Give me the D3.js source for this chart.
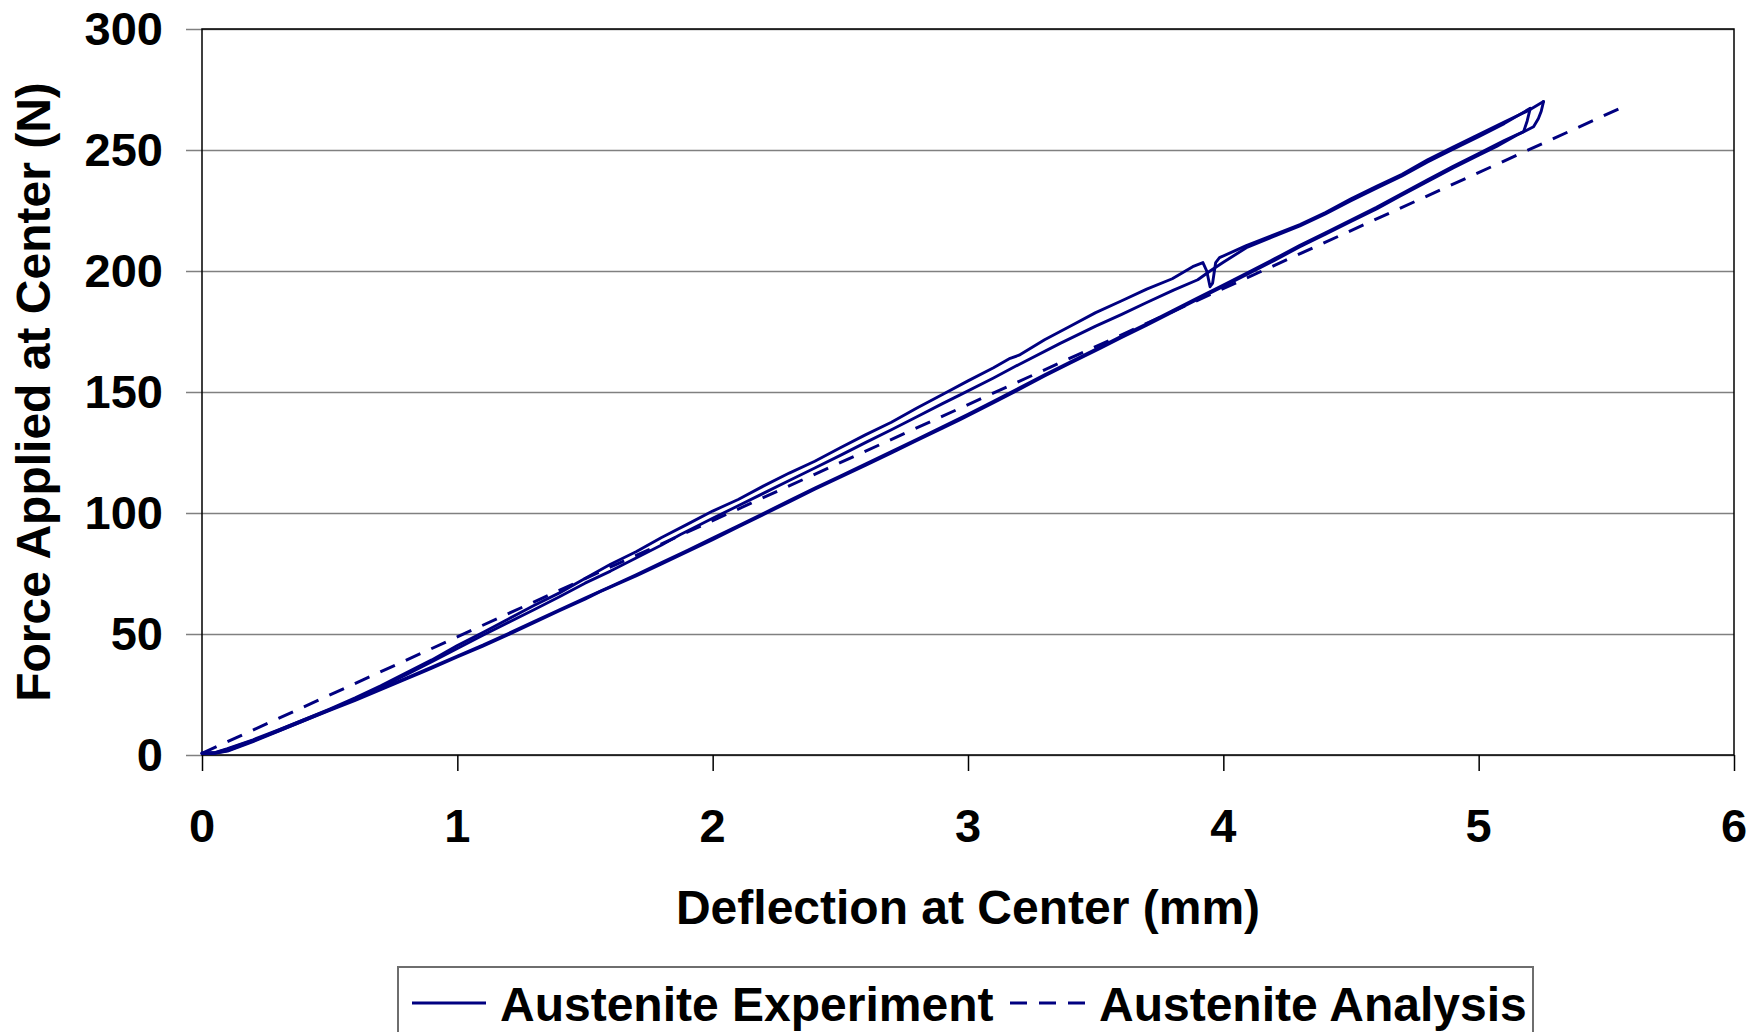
<!DOCTYPE html>
<html>
<head>
<meta charset="utf-8">
<script src="https://cdn.jsdelivr.net/npm/d3@7"></script>
<style>
  html, body { margin: 0; padding: 0; background: #fff; }
  svg { display: block; }
  text { font-family: "Liberation Sans", Arial, sans-serif; font-weight: bold; fill: #000; }
</style>
</head>
<body>
<svg id="chart" width="1764" height="1032"></svg>
<script>
// Axis ticks
const xTicks = [0, 1, 2, 3, 4, 5, 6];
const yTicks = [0, 50, 100, 150, 200, 250, 300];

// Measured load–deflection cycles, [deflection mm, force N]
const loading1 = [
  [0.00,0.8],[0.05,0.8],[0.10,1.8],[0.20,5.8],[0.30,10.3],[0.40,14.6],[0.50,19.0],[0.60,23.6],
  [0.70,28.6],[0.80,34.0],[0.90,39.3],[1.00,45.2],[1.10,50.6],[1.20,56.2],[1.30,61.8],[1.40,67.0],
  [1.50,72.9],[1.60,78.8],[1.70,84.0],[1.80,89.9],[1.90,95.3],[2.00,100.8],[2.10,105.6],[2.20,111.2],
  [2.30,116.5],[2.40,121.4],[2.50,127.0],[2.60,132.4],[2.70,137.5],[2.80,143.4],[2.90,149.0],[3.00,154.6],
  [3.10,160.0],[3.165,163.9],[3.20,165.2],[3.30,171.6],[3.40,177.2],[3.50,182.8],[3.60,187.6],[3.70,192.5],
  [3.80,196.8],[3.88,201.8],[3.92,203.5],[3.935,200.0],[3.948,193.5],[3.958,195.0],[3.97,203.5],[3.985,205.5],
  [4.09,210.5],[4.20,215.0],[4.30,219.2],[4.40,224.2],[4.50,229.8],[4.60,235.0],[4.70,240.0],[4.80,246.0],
  [4.90,251.2],[5.00,256.4],[5.10,261.6],[5.20,266.6],[5.254,270.0]
];
const unloading1 = [
  [5.254,270.0],[5.245,266.0],[5.234,263.0],[5.215,259.6],[5.15,256.2],[5.07,251.5],[5.00,247.8],[4.90,242.6],
  [4.80,237.0],[4.693,231.0],[4.60,225.6],[4.50,220.5],[4.40,215.2],[4.30,210.0],[4.20,204.4],[4.10,199.0],
  [3.988,193.0],[3.90,188.3],[3.80,183.0],[3.70,177.6],[3.60,172.4],[3.517,168.0],[3.40,161.9],[3.30,156.6],
  [3.20,151.0],[3.10,145.6],[2.969,138.6],[2.90,135.0],[2.80,130.0],[2.70,124.8],[2.60,119.8],[2.50,114.8],
  [2.40,109.8],[2.30,104.6],[2.20,99.4],[2.10,94.2],[2.00,89.0],[1.872,82.6],[1.80,79.0],[1.70,74.0],
  [1.559,67.5],[1.50,64.4],[1.40,59.6],[1.30,54.7],[1.206,50.0],[1.10,45.0],[1.00,40.5],[0.90,35.9],
  [0.854,33.8],[0.80,31.4],[0.70,27.0],[0.60,22.6],[0.50,18.4],[0.40,14.2],[0.30,10.0],[0.20,6.0],
  [0.10,2.4],[0.05,0.9],[0.00,0.6]
];
const loading2 = [
  [0.00,0.6],[0.05,0.7],[0.10,1.6],[0.20,5.5],[0.30,9.9],[0.40,14.2],[0.50,18.6],[0.60,23.2],
  [0.70,28.0],[0.80,33.2],[0.90,38.6],[1.00,44.0],[1.10,49.5],[1.20,54.8],[1.30,60.0],[1.40,65.4],
  [1.50,71.0],[1.60,76.0],[1.70,81.4],[1.80,86.8],[1.872,91.0],[2.00,97.8],[2.10,103.0],[2.20,108.2],
  [2.30,113.4],[2.40,118.6],[2.50,123.8],[2.60,129.2],[2.70,134.4],[2.80,139.8],[2.90,145.2],[2.969,148.8],
  [3.10,155.8],[3.20,161.4],[3.361,170.1],[3.50,177.2],[3.60,182.0],[3.70,187.0],[3.805,192.1],[3.90,196.4],
  [3.948,200.0],[4.00,203.6],[4.09,209.6],[4.20,214.4],[4.30,218.6],[4.40,223.6],[4.50,229.0],[4.60,234.2],
  [4.70,239.3],[4.80,245.1],[4.90,250.3],[5.00,255.5],[5.10,260.9],[5.202,267.2]
];
const unloading2 = [
  [5.202,267.2],[5.19,262.0],[5.176,257.6],[5.10,253.9],[5.00,248.5],[4.90,243.3],[4.80,237.7],[4.70,232.0],
  [4.60,226.3],[4.50,221.1],[4.40,215.8],[4.30,210.6],[4.20,205.0],[4.10,199.6],[4.00,194.2],[3.90,188.9],
  [3.80,183.6],[3.70,178.2],[3.60,173.0],[3.50,167.6],[3.40,162.4],[3.30,157.1],[3.20,151.6],[3.10,146.2],
  [3.00,140.8],[2.90,135.6],[2.80,130.5],[2.70,125.4],[2.60,120.3],[2.50,115.3],[2.40,110.3],[2.30,105.1],
  [2.20,99.9],[2.10,94.7],[2.00,89.6],[1.90,84.5],[1.80,79.5],[1.70,74.5],[1.60,69.6],[1.50,64.8],
  [1.40,60.0],[1.30,55.1],[1.20,50.2],[1.10,45.4],[1.00,40.9],[0.90,36.3],[0.80,31.8],[0.70,27.4],
  [0.60,23.0],[0.50,18.8],[0.40,14.6],[0.30,10.4],[0.20,6.3],[0.10,2.6],[0.05,1.0],[0.00,0.7]
];

// Linear model prediction
const analysis = [[0.00,0.7],[1.461,71.0],[2.969,143.3],[5.57,268.0]];

const seriesNames = ["Austenite Experiment", "Austenite Analysis"];

const navy = "#000080";
const svg = d3.select("#chart");

const plot = { left: 202, right: 1734, top: 29, bottom: 755 };
const x = d3.scaleLinear().domain([0, 6]).range([plot.left, plot.right]);
const y = d3.scaleLinear().domain([0, 300]).range([plot.bottom, plot.top]);

// Horizontal gridlines with outward tick stubs on the left
const yAxis = d3.axisLeft(y).tickValues(yTicks).tickSize(plot.right - plot.left + 16).tickFormat("");
const gy = svg.append("g").attr("transform", `translate(${plot.right},0)`).call(yAxis);
gy.select(".domain").remove();
gy.selectAll(".tick line").attr("stroke", "#808080").attr("stroke-width", 1.5);

// Y tick labels
svg.append("g").selectAll("text").data(yTicks).join("text")
  .attr("x", 163).attr("y", d => y(d) + 16)
  .attr("text-anchor", "end").attr("font-size", 47)
  .text(d => d);

// Plot frame
svg.append("rect")
  .attr("x", plot.left).attr("y", plot.top)
  .attr("width", plot.right - plot.left).attr("height", plot.bottom - plot.top)
  .attr("fill", "none").attr("stroke", "#000").attr("stroke-width", 1.5);

// X axis ticks and labels
const xAxis = d3.axisBottom(x).tickValues(xTicks).tickSize(16).tickPadding(0).tickFormat("");
const gx = svg.append("g").attr("transform", `translate(0,${plot.bottom})`).call(xAxis);
gx.select(".domain").remove();
gx.selectAll(".tick line").attr("stroke", "#000").attr("stroke-width", 1.5);
svg.append("g").selectAll("text").data(xTicks).join("text")
  .attr("x", d => x(d)).attr("y", 842)
  .attr("text-anchor", "middle").attr("font-size", 47)
  .text(d => d);

// Axis titles
svg.append("text")
  .attr("x", (plot.left + plot.right) / 2).attr("y", 924)
  .attr("text-anchor", "middle").attr("font-size", 48)
  .text("Deflection at Center (mm)");
svg.append("text")
  .attr("transform", `translate(50,${(plot.top + plot.bottom) / 2}) rotate(-90)`)
  .attr("text-anchor", "middle").attr("font-size", 48)
  .text("Force Applied at Center (N)");

// Data lines
const line = d3.line().x(d => x(d[0])).y(d => y(d[1]));
const data = svg.append("g");
[loading1, unloading1, loading2, unloading2].forEach(seg => {
  data.append("path").datum(seg).attr("d", line)
    .attr("fill", "none").attr("stroke", navy).attr("stroke-width", 2.9)
    .attr("stroke-linejoin", "round").attr("stroke-linecap", "round");
});
data.append("path").datum(analysis).attr("d", line)
  .attr("fill", "none").attr("stroke", navy).attr("stroke-width", 3)
  .attr("stroke-dasharray", "16,12");

// Legend
const lg = svg.append("g");
lg.append("rect").attr("x", 398).attr("y", 967).attr("width", 1135).attr("height", 90)
  .attr("fill", "#fff").attr("stroke", "#6e6e6e").attr("stroke-width", 2);
lg.append("line").attr("x1", 412).attr("x2", 486).attr("y1", 1003).attr("y2", 1003)
  .attr("stroke", navy).attr("stroke-width", 3);
lg.append("text").attr("x", 500).attr("y", 1021).attr("font-size", 48).text(seriesNames[0]);
lg.append("line").attr("x1", 1010).attr("x2", 1085).attr("y1", 1003).attr("y2", 1003)
  .attr("stroke", navy).attr("stroke-width", 3).attr("stroke-dasharray", "17,12");
lg.append("text").attr("x", 1099).attr("y", 1021).attr("font-size", 48).text(seriesNames[1]);
</script>
</body>
</html>
